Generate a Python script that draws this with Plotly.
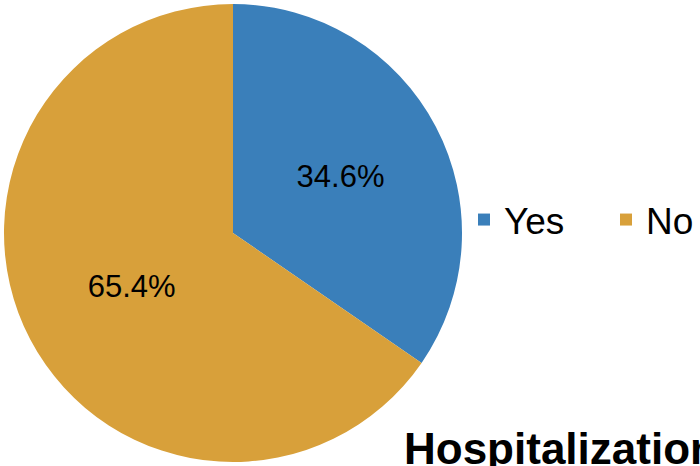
import plotly.graph_objects as go

labels = ["Yes", "No"]
values = [34.6, 65.4]
colors = ["#3A7FBA", "#D8A03A"]
title_text = "Hospitalization"

W, H = 700, 466
FONT = "Liberation Sans, Arial, sans-serif"

fig = go.Figure()
fig.add_trace(go.Pie(
    labels=labels,
    values=values,
    marker=dict(colors=colors, line=dict(width=0)),
    sort=False,
    direction="clockwise",
    rotation=0,
    texttemplate="%{value:.1f}%",
    textposition="inside",
    insidetextorientation="horizontal",
    textfont=dict(family=FONT, size=31, color="black"),
    domain=dict(x=[4/W, 462/W], y=[4/H, 462/H]),
    hoverinfo="label+percent",
))

fig.update_layout(
    width=W, height=H,
    margin=dict(l=0, r=0, t=0, b=0, pad=0, autoexpand=False),
    paper_bgcolor="white",
    plot_bgcolor="white",
    showlegend=True,
    legend=dict(
        orientation="h",
        x=464/W, y=(H-220)/H,
        xanchor="left", yanchor="middle",
        font=dict(family=FONT, size=37, color="black"),
        entrywidth=97, entrywidthmode="pixels",
        bgcolor="rgba(0,0,0,0)",
    ),
    annotations=[dict(
        text="<b>" + title_text + "</b>",
        x=402/W, y=(H-448)/H, xref="paper", yref="paper",
        xanchor="left", yanchor="middle", showarrow=False,
        font=dict(family=FONT, size=44, color="black"),
    )],
)

fig.write_html(
    "out.html",
    config={"displayModeBar": False},
    post_script="document.body.style.margin='0';document.body.style.overflow='hidden';",
)
